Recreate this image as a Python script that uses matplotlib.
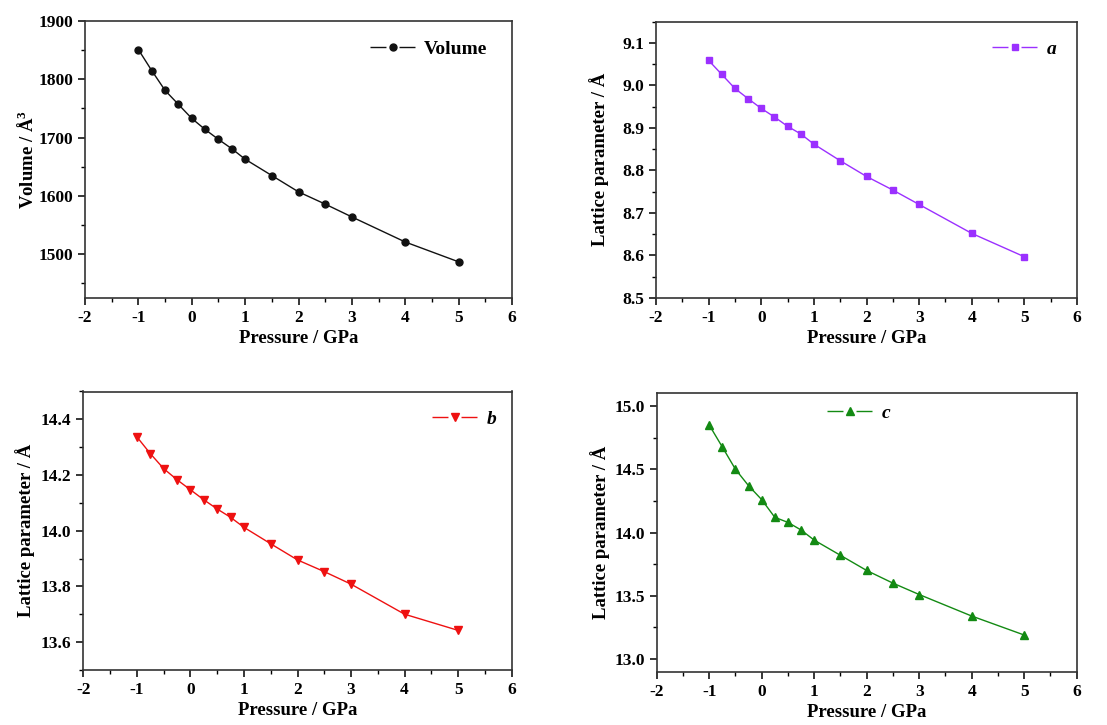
import matplotlib
matplotlib.use('Agg')
import numpy as np
from matplotlib import pyplot as plt
from matplotlib.ticker import MultipleLocator, FormatStrFormatter
from matplotlib.lines import Line2D
from matplotlib.legend_handler import HandlerTuple

plt.rcParams['font.family'] = 'Liberation Serif'
plt.rcParams['font.weight'] = 'bold'
plt.rcParams['axes.unicode_minus'] = False
plt.rcParams['lines.scale_dashes'] = False
plt.rcParams['mathtext.fontset'] = 'custom'
plt.rcParams['mathtext.rm'] = 'Liberation Serif:bold'
plt.rcParams['mathtext.it'] = 'Liberation Serif:bold:italic'
plt.rcParams['mathtext.bf'] = 'Liberation Serif:bold'

pressure = [-1, -0.75, -0.5, -0.25, 0, 0.25, 0.5, 0.75, 1, 1.5, 2, 2.5, 3, 4, 5]
volume = [1851, 1815, 1781, 1757, 1733, 1714, 1697, 1681, 1663, 1635, 1607, 1586, 1564, 1521, 1487]
lat_a = [9.059, 9.026, 8.993, 8.969, 8.946, 8.926, 8.904, 8.886, 8.862, 8.823, 8.786, 8.754, 8.720, 8.652, 8.597]
lat_b = [14.337, 14.277, 14.223, 14.183, 14.147, 14.111, 14.078, 14.048, 14.012, 13.953, 13.895, 13.853, 13.808, 13.700, 13.642]
lat_c = [14.85, 14.676, 14.50, 14.37, 14.26, 14.12, 14.08, 14.02, 13.94, 13.82, 13.70, 13.60, 13.51, 13.34, 13.19]

fig = plt.figure(figsize=(11.07, 7.25), dpi=100)

panels = [
    # rect, y, color, marker, size, legend label, ylabel, ylim, major, minor, fmt, legend anchor
    ([0.0768, 0.589, 0.3857, 0.382], volume, '#111111', 'o', 5, 'Volume',
     'Volume / Å$^3$', (1425, 1900), 100, 50, '%d', (0.667, 0.90)),
    ([0.5926, 0.589, 0.3803, 0.381], lat_a, '#9b30ff', 's', 4.5, '$a$', 'Lattice parameter / Å',
     (8.5, 9.15), 0.1, 0.05, '%.1f', (0.798, 0.90)),
    ([0.0753, 0.076, 0.3869, 0.384], lat_b, '#ee1111', 'v', 6, '$b$', 'Lattice parameter / Å',
     (13.5, 14.5), 0.2, 0.1, '%.1f', (0.813, 0.90)),
    ([0.5932, 0.0735, 0.3794, 0.384], lat_c, '#138a13', '^', 6, '$c$', 'Lattice parameter / Å',
     (12.9, 15.1), 0.5, 0.25, '%.1f', (0.405, 0.93)),
]

for rect, y, color, marker, ms, lab, ylab, ylim, major, minor, fmt, loc in panels:
    ax = fig.add_axes(rect)
    ax.plot(pressure, y, color=color, linewidth=1.0)
    ax.plot(pressure, y, color=color, marker=marker, markersize=ms, linestyle='none')
    ax.set_xlim(-2, 6)
    ax.set_ylim(*ylim)
    ax.xaxis.set_major_locator(MultipleLocator(1))
    ax.xaxis.set_minor_locator(MultipleLocator(0.5))
    ax.yaxis.set_major_locator(MultipleLocator(major))
    ax.yaxis.set_minor_locator(MultipleLocator(minor))
    ax.yaxis.set_major_formatter(FormatStrFormatter(fmt))
    ax.tick_params(which='major', direction='out', length=5, width=1.1, labelsize=12.5)
    ax.tick_params(which='minor', direction='out', length=3, width=1.0)
    for s in ax.spines.values():
        s.set_linewidth(1.2)
        s.set_color('#333333')
    ax.set_xlabel('Pressure / GPa', fontsize=13.5, fontweight='bold', labelpad=3)
    ax.set_ylabel(ylab, fontsize=13.5, fontweight='bold')
    ax.yaxis.set_label_coords(-0.112, 0.5)

    # legend handle: line - gap - marker - gap - line
    h_line = Line2D([], [], color=color, linewidth=1.0, linestyle=(0, (11.5, 9.4, 11.5)))
    h_mark = Line2D([], [], color=color, marker=marker, markersize=ms, linestyle='none')
    ax.legend([(h_line, h_mark)], [lab], handler_map={tuple: HandlerTuple(ndivide=1)},
              loc='center left', bbox_to_anchor=loc, frameon=False, fontsize=14,
              handlelength=2.4, handletextpad=0.4, borderaxespad=0, borderpad=0)

fig.savefig('out.png', dpi=100)
